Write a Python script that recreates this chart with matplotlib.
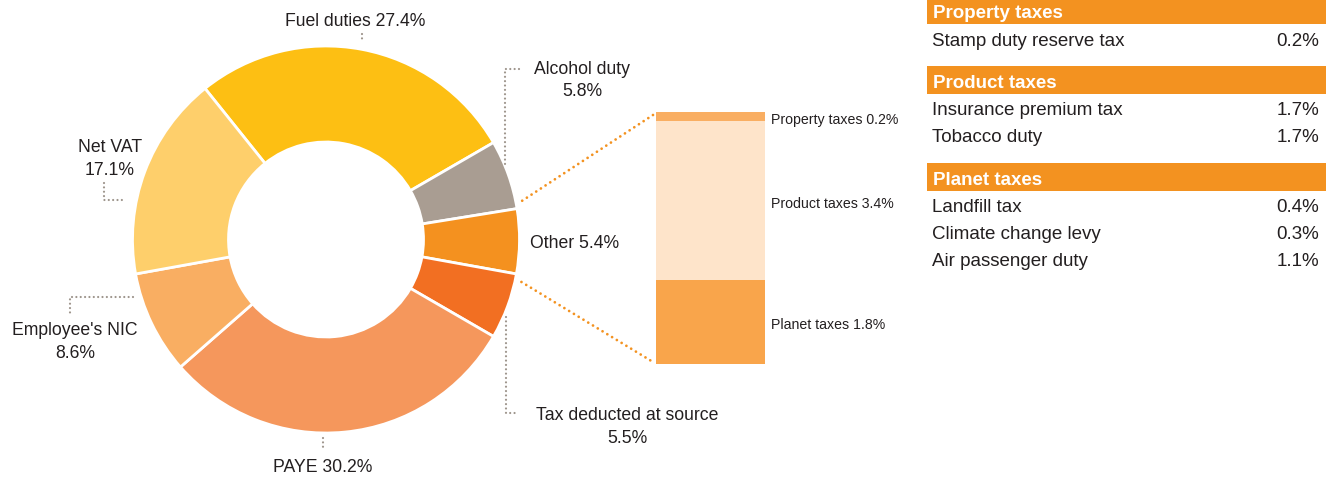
import matplotlib
matplotlib.use("Agg")
import numpy as np
import matplotlib.pyplot as plt
from matplotlib import font_manager
from matplotlib.patches import Rectangle

# ---- data -------------------------------------------------------------
donut_labels = ["Fuel duties", "Alcohol duty", "Other", "Tax deducted at source",
                "PAYE", "Employee's NIC", "Net VAT"]
donut_values = [27.4, 5.8, 5.4, 5.5, 30.2, 8.6, 17.1]
donut_colors = ["#FDBF13", "#A99D92", "#F4911F", "#F26F22",
                "#F5975C", "#F9AE62", "#FECF6B"]

other_labels = ["Property taxes", "Product taxes", "Planet taxes"]
other_values = [0.2, 3.4, 1.8]
other_colors = ["#F9AE62", "#FEE4CA", "#F9A54B"]

table_groups = ["Property taxes", "Product taxes", "Planet taxes"]
property_items = ["Stamp duty reserve tax"]
property_values = [0.2]
product_items = ["Insurance premium tax", "Tobacco duty"]
product_values = [1.7, 1.7]
planet_items = ["Landfill tax", "Climate change levy", "Air passenger duty"]
planet_values = [0.4, 0.3, 1.1]

# ---- styling ----------------------------------------------------------
W, H = 1338, 478
TEXT = "#231F20"
LEADER = "#9D948B"
ORANGE = "#F39220"
plt.rcParams["font.family"] = ["Liberation Sans", "DejaVu Sans"]


def has_font(name):
    try:
        font_manager.findfont(name, fallback_to_default=False)
        return True
    except Exception:
        return False


if has_font("Liberation Sans Narrow"):
    narrow = dict(family=["Liberation Sans Narrow", "Liberation Sans"], size=12)
else:
    narrow = dict(family=["Liberation Sans"], size=10.2)

fig = plt.figure(figsize=(W / 100, H / 100), dpi=100)
ax = fig.add_axes([0, 0, 1, 1])


def Y(y):
    """top-down pixel row -> axes data y"""
    return H - y


# ---- donut ------------------------------------------------------------
cx, cy, R, ring = 326, Y(239.5), 193.5, 96
wedges, _ = ax.pie(donut_values, colors=donut_colors, startangle=128.7,
                   counterclock=False, radius=R, center=(cx, cy),
                   wedgeprops=dict(width=ring, edgecolor="white", linewidth=2))
ax.set_aspect("auto")
ax.set_xlim(0, W)
ax.set_ylim(0, H)
ax.axis("off")

lab_kw = dict(fontsize=12.7, color=TEXT, va="baseline")
pct = [f"{v}%" for v in donut_values]

ax.text(355, Y(26), f"{donut_labels[0]} {pct[0]}", ha="center", **lab_kw)
ax.text(582, Y(74), donut_labels[1], ha="center", **lab_kw)
ax.text(582, Y(96), pct[1], ha="center", **lab_kw)
ax.text(530, Y(248), f"{donut_labels[2]} {pct[2]}", ha="left", **lab_kw)
ax.text(627, Y(420), donut_labels[3], ha="center", **lab_kw)
ax.text(627, Y(443), pct[3], ha="center", **lab_kw)
ax.text(323, Y(472.5), f"{donut_labels[4]} {pct[4]}", ha="center", **lab_kw)
ax.text(75, Y(335), donut_labels[5], ha="center", **lab_kw)
ax.text(75, Y(358), pct[5], ha="center", **lab_kw)
ax.text(110, Y(152), donut_labels[6], ha="center", **lab_kw)
ax.text(110, Y(175), pct[6], ha="center", **lab_kw)

# dotted leader lines from the labels to the ring
leaders = [
    [(362, 34), (362, 41)],
    [(519, 69), (505, 69), (505, 165)],
    [(506, 317), (506, 413), (518, 413)],
    [(323, 438), (323, 451)],
    [(133, 297), (70, 297), (70, 315)],
    [(104, 183), (104, 200), (123, 200)],
]
for pts in leaders:
    xs = [p[0] for p in pts]
    ys = [Y(p[1]) for p in pts]
    ax.plot(xs, ys, color=LEADER, lw=1.6, linestyle=(0, (0.01, 1.95)),
            dash_capstyle="round", solid_capstyle="round")

# ---- breakdown of "Other" as a stacked column ---------------------------
bx0, bx1, by0, by1 = 656, 765, 112, 364
axb = fig.add_axes([bx0 / W, (H - by1) / H, (bx1 - bx0) / W, (by1 - by0) / H])
bottom = 0.0
segs = []
for lab, val, col in zip(other_labels[::-1], other_values[::-1], other_colors[::-1]):
    axb.bar(0.5, val, width=1.0, bottom=bottom, color=col, edgecolor="none")
    segs.append((lab, val, bottom + val / 2))
    bottom += val
axb.set_xlim(0, 1)
axb.set_ylim(0, sum(other_values))
axb.axis("off")

for lab, val, mid in segs:
    _, ym = axb.transData.transform((0.5, mid))
    ax.text(bx1 + 6, ym - 7, f"{lab} {val}%", color=TEXT, va="baseline",
            ha="left", **narrow)

# orange connectors from the "Other" wedge to the column
other = wedges[2]
rr = R + 6.5
a_up = np.deg2rad(other.theta2 + 2.0)
a_dn = np.deg2rad(other.theta1 - 2.0)
dot = dict(color=ORANGE, lw=2.0, linestyle=(0, (0.01, 2.0)), dash_capstyle="round")
ax.plot([cx + rr * np.cos(a_up), bx0 - 3], [cy + rr * np.sin(a_up), Y(by0 + 3)], **dot)
ax.plot([cx + rr * np.cos(a_dn), bx0 - 3], [cy + rr * np.sin(a_dn), Y(by1 - 2)], **dot)

# ---- table of the components ----------------------------------------
tx0, tx1 = 927, 1326
group_rows = [(property_items, property_values),
              (product_items, product_values),
              (planet_items, planet_values)]
base = 18.3
for gname, (items, vals) in zip(table_groups, group_rows):
    ax.add_patch(Rectangle((tx0, Y(base + 6)), tx1 - tx0, 28,
                           facecolor=ORANGE, edgecolor="none"))
    ax.text(933, Y(base), gname, color="white", fontsize=13.5,
            fontweight="bold", va="baseline", ha="left")
    row = base + 27.2
    for it, v in zip(items, vals):
        ax.text(932, Y(row), it, color=TEXT, fontsize=13.5, va="baseline", ha="left")
        ax.text(1319, Y(row), f"{v}%", color=TEXT, fontsize=13.5,
                va="baseline", ha="right")
        row += 27.4
    base = row - 27.4 + 42.2

fig.savefig("out.png", dpi=100)
